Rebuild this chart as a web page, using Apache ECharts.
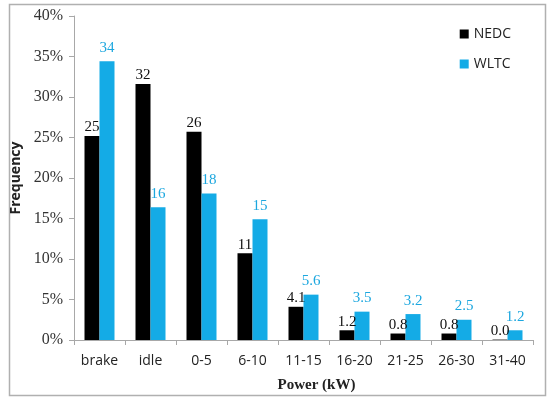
<!DOCTYPE html>
<html>
<head>
<meta charset="utf-8">
<script src="https://cdn.jsdelivr.net/npm/echarts@6/dist/echarts.min.js"></script>
<style>
  html, body { margin: 0; padding: 0; background: #fff; }
  #chart { width: 552px; height: 408px; }
</style>
</head>
<body>
<div id="chart"></div>
<script>
const categories = ['brake', 'idle', '0-5', '6-10', '11-15', '16-20', '21-25', '26-30', '31-40']
const nedcValues = [25.2, 31.6, 25.7, 10.7, 4.1, 1.2, 0.8, 0.8, 0.05]
const wltcValues = [34.4, 16.4, 18.1, 14.9, 5.6, 3.5, 3.2, 2.5, 1.2]
const nedcLabels = ['25', '32', '26', '11', '4.1', '1.2', '0.8', '0.8', '0.0']
const wltcLabels = ['34', '16', '18', '15', '5.6', '3.5', '3.2', '2.5', '1.2']

const chart = echarts.init(document.getElementById('chart'))

const serif = '"Liberation Serif", "DejaVu Serif", serif'
const sans = '"Open Sans", "Liberation Sans", sans-serif'

const option = {
  animation: false,
  backgroundColor: '#fff',
  graphic: [
    {
      type: 'rect',
      left: 7,
      top: 2,
      shape: { width: 536, height: 391 },
      style: { fill: 'none', stroke: '#b0b0b0', lineWidth: 1.5 }
    }
  ],
  legend: {
    orient: 'vertical',
    right: 36,
    top: 22,
    itemWidth: 9,
    itemHeight: 9,
    itemGap: 16,
    icon: 'rect',
    textStyle: { fontFamily: sans, fontSize: 14, color: '#222' },
    data: ['NEDC', 'WLTC']
  },
  grid: {
    left: 74,
    right: 19,
    top: 16,
    bottom: 68
  },
  xAxis: {
    type: 'category',
    data: categories,
    name: 'Power (kW)',
    nameLocation: 'middle',
    nameGap: 38,
    nameTextStyle: { fontFamily: serif, fontWeight: 'bold', fontSize: 15, color: '#222', padding: [0, 0, 0, 26] },
    axisLine: { lineStyle: { color: '#a8a8a8' } },
    axisTick: { show: true, alignWithLabel: false, length: 5, lineStyle: { color: '#a8a8a8' } },
    axisLabel: { fontFamily: sans, fontSize: 14, color: '#222', margin: 14, interval: 0 }
  },
  yAxis: {
    type: 'value',
    min: 0,
    max: 40,
    interval: 5,
    name: 'Frequency',
    nameLocation: 'middle',
    nameGap: 46,
    nameTextStyle: { fontFamily: sans, fontWeight: 'bold', fontSize: 14, color: '#222' },
    axisLine: { show: true, lineStyle: { color: '#a8a8a8' } },
    axisTick: { show: true, length: 5, lineStyle: { color: '#a8a8a8' } },
    splitLine: { show: false },
    axisLabel: { fontFamily: serif, fontSize: 16, color: '#333', margin: 11, formatter: '{value}%' }
  },
  series: [
    {
      name: 'NEDC',
      type: 'bar',
      data: nedcValues,
      barWidth: 15,
      barGap: '0%',
      itemStyle: { color: '#000' },
      label: {
        show: true,
        position: 'top',
        distance: 1,
        fontFamily: serif,
        fontSize: 15,
        color: '#111',
        formatter: p => nedcLabels[p.dataIndex]
      }
    },
    {
      name: 'WLTC',
      type: 'bar',
      data: wltcValues,
      barWidth: 15,
      barGap: '0%',
      itemStyle: { color: '#14ABE6' },
      label: {
        show: true,
        position: 'top',
        distance: 6,
        fontFamily: serif,
        fontSize: 15,
        color: '#1CA7DF',
        formatter: p => wltcLabels[p.dataIndex]
      }
    }
  ]
}

chart.setOption(option)
</script>
</body>
</html>
